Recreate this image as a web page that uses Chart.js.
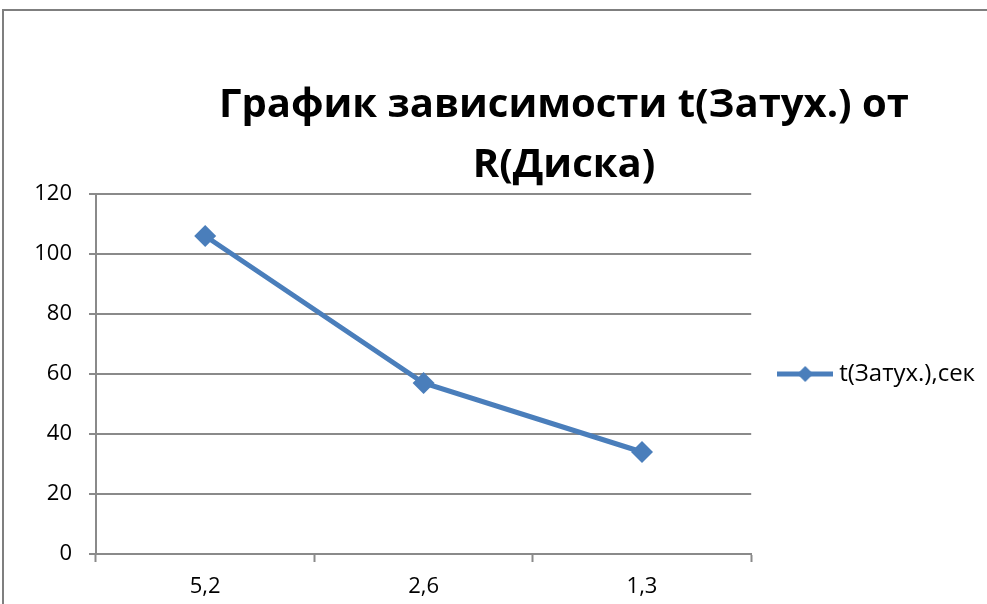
<!DOCTYPE html>
<html lang="ru">
<head>
<meta charset="utf-8">
<title>График зависимости t(Затух.) от R(Диска)</title>
<script src="https://cdn.jsdelivr.net/npm/chart.js@4/dist/chart.umd.min.js"></script>
<style>
  html, body { margin: 0; padding: 0; background: #ffffff; }
  #chart { display: block; }
</style>
</head>
<body>
<canvas id="chart" width="987" height="604"></canvas>
<script>
// Disc radius categories and the measured damping time for each
const radiusLabels = ['5,2', '2,6', '1,3'];
const dampingTimes = [106, 57, 34];
const seriesName = 't(Затух.),сек';
const titleLines = ['График зависимости t(Затух.) от', 'R(Диска)'];
const yTicks = { min: 0, max: 120, step: 20 };

const LINE_BLUE = '#4a7ebb';
const AXIS_GREY = '#8a8a8a';
const FONT = '"Open Sans", "Noto Sans", "DejaVu Sans", sans-serif';

// Legend swatch: a short line segment with a diamond marker in the middle
function legendSwatch() {
  const c = document.createElement('canvas');
  c.width = 56; c.height = 20;
  const g = c.getContext('2d');
  g.strokeStyle = LINE_BLUE;
  g.lineWidth = 5;
  g.beginPath(); g.moveTo(0, 10); g.lineTo(56, 10); g.stroke();
  g.fillStyle = LINE_BLUE;
  g.beginPath();
  g.moveTo(28, 2); g.lineTo(36, 10); g.lineTo(28, 18); g.lineTo(20, 10);
  g.closePath(); g.fill();
  return c;
}

// White page with the chart frame along the top and left edges
const framePlugin = {
  id: 'frame',
  beforeDraw(chart) {
    const ctx = chart.ctx;
    ctx.save();
    ctx.fillStyle = '#ffffff';
    ctx.fillRect(0, 0, chart.width, chart.height);
    ctx.strokeStyle = '#7f7f7f';
    ctx.lineWidth = 2;
    ctx.strokeRect(3, 10, chart.width + 20, chart.height + 20);
    ctx.restore();
  }
};

// Centre the title over the plot plus legend region rather than the whole canvas
const titleShift = {
  id: 'titleShift',
  afterLayout(chart) {
    const t = chart.titleBlock;
    if (!t) return;
    const centre = 564;
    const half = 440;
    t.left = centre - half;
    t.right = centre + half;
    t.width = half * 2;
  }
};

new Chart(document.getElementById('chart'), {
  type: 'line',
  data: {
    labels: radiusLabels,
    datasets: [{
      label: seriesName,
      data: dampingTimes,
      borderColor: LINE_BLUE,
      backgroundColor: LINE_BLUE,
      borderWidth: 5,
      tension: 0,
      pointStyle: 'rectRot',
      pointRadius: 11,
      pointHoverRadius: 11,
      pointBackgroundColor: LINE_BLUE,
      pointBorderColor: LINE_BLUE,
      pointBorderWidth: 0
    }]
  },
  options: {
    responsive: false,
    animation: false,
    devicePixelRatio: 1,
    layout: { padding: { left: 0, right: 2, top: 0, bottom: 0 } },
    plugins: {
      title: {
        display: true,
        text: titleLines,
        color: '#000000',
        font: { family: FONT, size: 40, weight: 'bold', lineHeight: 1.5 },
        padding: { top: 76, bottom: -2 }
      },
      legend: {
        display: true,
        position: 'right',
        fullSize: false,
        align: 'center',
        labels: {
          usePointStyle: true,
          pointStyle: legendSwatch(),
          pointStyleWidth: 44,
          color: '#000000',
          font: { family: FONT, size: 24 },
          padding: 32
        }
      },
      tooltip: { enabled: false }
    },
    scales: {
      x: {
        type: 'category',
        offset: true,
        grid: {
          display: true,
          offset: true,
          drawOnChartArea: false,
          drawTicks: true,
          tickLength: 8,
          tickWidth: 2,
          color: AXIS_GREY
        },
        border: { display: true, color: AXIS_GREY, width: 2 },
        ticks: {
          color: '#000000',
          font: { family: FONT, size: 22 },
          padding: 12,
          maxRotation: 0
        },
        afterFit(scale) { scale.height = 50; }
      },
      y: {
        min: yTicks.min,
        max: yTicks.max,
        grid: {
          color: AXIS_GREY,
          lineWidth: 2,
          drawTicks: true,
          tickLength: 7,
          tickWidth: 2
        },
        border: { display: true, color: AXIS_GREY, width: 2 },
        ticks: {
          stepSize: yTicks.step,
          color: '#000000',
          font: { family: FONT, size: 22 },
          padding: 17
        },
        afterFit(scale) { scale.width = 96; }
      }
    }
  },
  plugins: [framePlugin, titleShift]
});
</script>
</body>
</html>
